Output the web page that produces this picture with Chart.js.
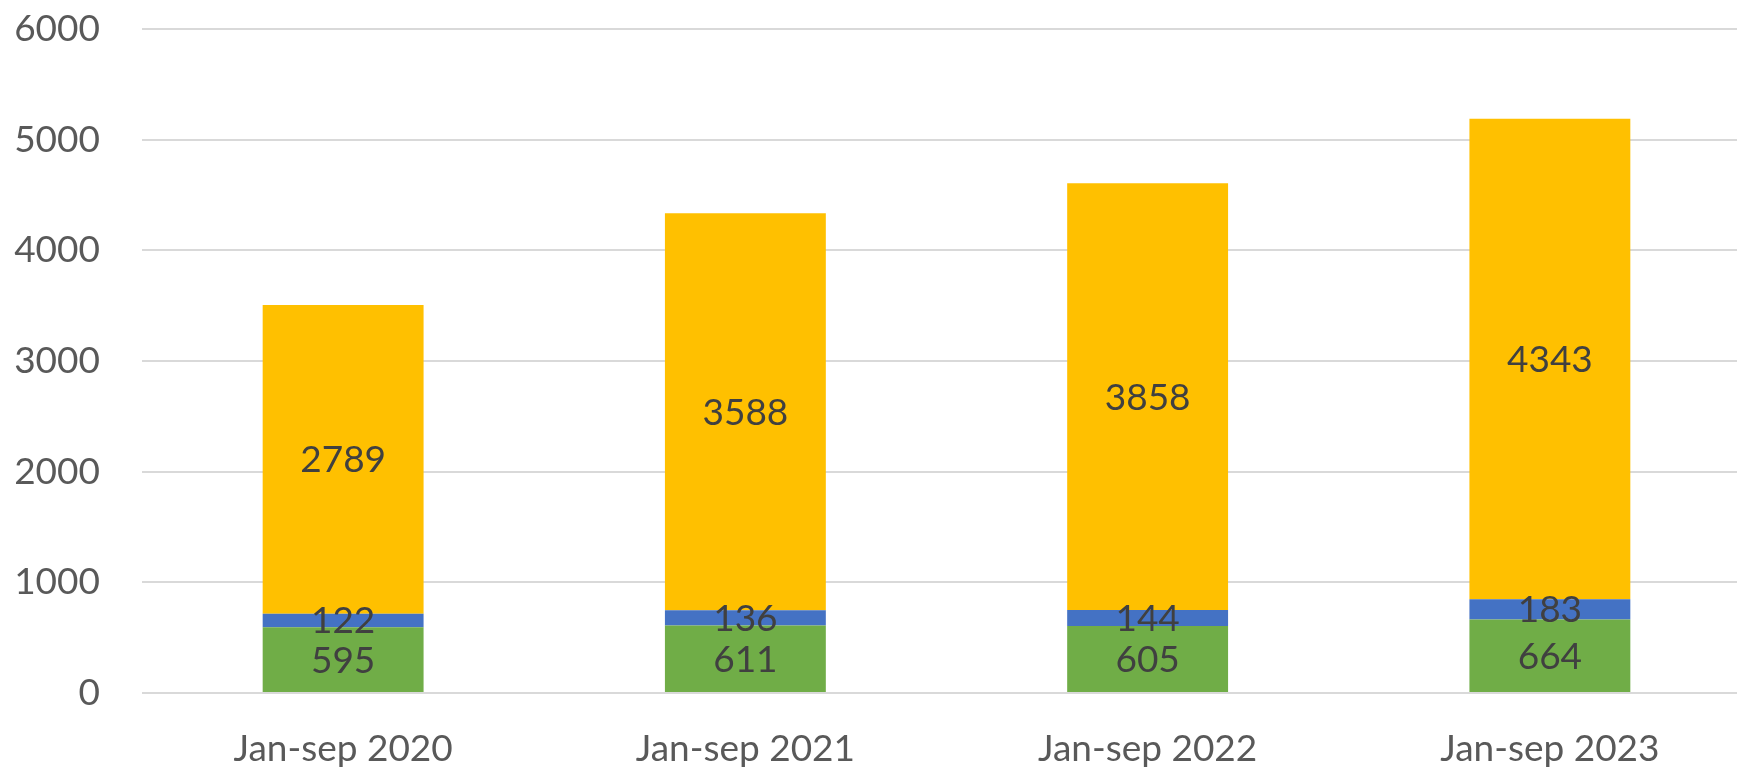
<!DOCTYPE html>
<html>
<head>
<meta charset="utf-8">
<script src="https://cdn.jsdelivr.net/npm/chart.js@4/dist/chart.umd.min.js"></script>
<style>
  html, body { margin: 0; padding: 0; background: #fff; overflow: hidden; }
  #wrap { position: relative; width: 1751px; height: 771px; }
</style>
</head>
<body>
<div id="wrap"><canvas id="chart"></canvas></div>
<script>
const categories = ['Jan-sep 2020', 'Jan-sep 2021', 'Jan-sep 2022', 'Jan-sep 2023']
const greenValues = [595, 611, 605, 664]
const blueValues = [122, 136, 144, 183]
const yellowValues = [2789, 3588, 3858, 4343]
const yTicks = [0, 1000, 2000, 3000, 4000, 5000, 6000]

const fontFamily = 'Lato, "Open Sans", sans-serif'

// draws the value in the middle of every bar segment
const segmentLabels = {
    id: 'segmentLabels',
    afterDatasetsDraw(chart) {
        const ctx = chart.ctx
        ctx.save()
        ctx.font = '37px ' + fontFamily
        ctx.fillStyle = '#404040'
        ctx.textAlign = 'center'
        ctx.textBaseline = 'middle'
        chart.data.datasets.forEach((ds, i) => {
            chart.getDatasetMeta(i).data.forEach((bar, j) => {
                const p = bar.getCenterPoint()
                ctx.fillText(ds.data[j], p.x, p.y + 1)
            })
        })
        ctx.restore()
    }
}

const ctx = document.getElementById('chart').getContext('2d')
new Chart(ctx, {
    type: 'bar',
    data: {
        labels: categories,
        datasets: [
            { label: 'green', data: greenValues, backgroundColor: '#70AD47', barPercentage: 0.4, categoryPercentage: 1 },
            { label: 'blue', data: blueValues, backgroundColor: '#4472C4', barPercentage: 0.4, categoryPercentage: 1 },
            { label: 'yellow', data: yellowValues, backgroundColor: '#FFC000', barPercentage: 0.4, categoryPercentage: 1 }
        ]
    },
    options: {
        responsive: true,
        maintainAspectRatio: false,
        animation: false,
        layout: { padding: { top: 29, left: 0, right: 0, bottom: 0 } },
        plugins: {
            legend: { display: false },
            tooltip: { enabled: false }
        },
        scales: {
            x: {
                stacked: true,
                afterFit(scale) {
                    scale.height = 78
                },
                grid: { display: false, drawTicks: false },
                border: { display: false },
                ticks: {
                    color: '#595959',
                    font: { family: fontFamily, size: 37 },
                    padding: 34,
                    maxRotation: 0
                }
            },
            y: {
                stacked: true,
                min: 0,
                max: 6000,
                afterBuildTicks(scale) {
                    scale.ticks = yTicks.map(v => ({ value: v }))
                },
                afterFit(scale) {
                    scale.width = 142
                    scale.paddingTop = 22
                    scale.paddingBottom = 22
                },
                grid: { color: '#d9d9d9', lineWidth: 2, drawTicks: false },
                border: { display: false },
                ticks: {
                    color: '#595959',
                    font: { family: fontFamily, size: 37 },
                    padding: 42,
                    callback: v => String(v)
                }
            }
        }
    },
    plugins: [segmentLabels]
})
</script>
</body>
</html>
